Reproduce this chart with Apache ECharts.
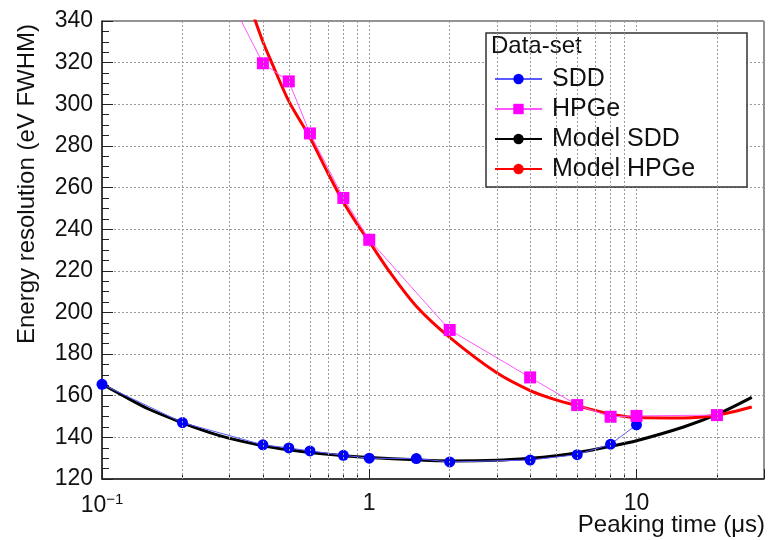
<!DOCTYPE html>
<html><head><meta charset="utf-8">
<script src="https://cdn.jsdelivr.net/npm/echarts@6/dist/echarts.min.js"></script>
<style>html,body{margin:0;padding:0;background:#fff}#c{width:769px;height:540px}</style>
</head><body><div id="c"></div>
<script>
// ---- data ----
const sddX = [0.1, 0.2, 0.4, 0.5, 0.6, 0.8, 1, 1.5, 2, 4, 6, 8, 10];
const sddY = [165.5, 147.1, 136.4, 134.9, 133.5, 131.4, 130.0, 129.8, 128.2, 129.1, 131.7, 136.7, 146.0];
const hpgeX = [0.2, 0.4, 0.5, 0.6, 0.8, 1, 2, 4, 6, 8, 10, 20];
const hpgeY = [395, 319.7, 311.0, 286.0, 255.0, 234.9, 191.6, 168.8, 155.5, 149.9, 150.3, 150.7];
const modelSddX = [0.1, 0.12, 0.15, 0.2, 0.25, 0.3, 0.4, 0.5, 0.6, 0.8, 1, 1.5, 2, 3, 4, 5, 6, 8, 10, 15, 20, 27];
const modelSddY = [165.5, 160, 153.5, 147, 142.5, 139.5, 136, 134, 132.7, 131.2, 130.3, 129.2, 128.7, 129, 130, 131.2, 132.6, 135.7, 138.4, 145, 151, 159.2];
const modelHpgeX = [0.35, 0.4, 0.43, 0.5, 0.6, 0.7, 0.8, 0.9, 1, 1.2, 1.5, 2, 3, 4, 5, 6, 8, 10, 15, 20, 27];
const modelHpgeY = [351, 330, 320.5, 301.5, 284, 267, 253, 242.5, 234, 219, 203, 188, 171, 162.5, 158, 155.2, 151.2, 149.5, 149.3, 150.7, 154.6];
const minorGridX = [0.2, 0.3, 0.4, 0.5, 0.6, 0.7, 0.8, 0.9, 2, 3, 4, 5, 6, 7, 8, 9, 20];
const seriesNames = ['SDD', 'HPGe', 'Model SDD', 'Model HPGe'];
const xTitle = 'Peaking time (\u03bcs)';
const yTitle = 'Energy resolution (eV FWHM)';
const legendTitle = 'Data-set';

const zip = (xs, ys) => xs.map((x, i) => [x, ys[i]]);
const FONT = '"Liberation Sans", Arial, Helvetica, sans-serif';
const chart = echarts.init(document.getElementById('c'), null, {renderer: 'canvas'});

function xLabel(v) {
  const l = Math.log10(v);
  if (Math.abs(l + 1) < 1e-6) return '{b|10}{s|\u22121}';
  if (Math.abs(l) < 1e-6) return '{b|1}';
  if (Math.abs(l - 1) < 1e-6) return '{b|10}';
  return '';
}

chart.setOption({
  animation: false,
  backgroundColor: '#fff',
  textStyle: {fontFamily: FONT},
  grid: {left: 102, right: 5, top: 21, bottom: 61, show: true, borderColor: '#222', borderWidth: 1, backgroundColor: 'transparent'},
  xAxis: [{
    type: 'log', logBase: 10, min: 0.1, max: 30,
    axisLine: {show: true, onZero: false, lineStyle: {color: '#222', width: 1.5}},
    axisTick: {show: true, inside: true, length: 10, lineStyle: {color: '#222'}},
    axisLabel: {formatter: xLabel, margin: 13, color: '#111', fontFamily: FONT,
      rich: {b: {fontSize: 23, fontFamily: FONT, color: '#111'},
             s: {fontSize: 15, fontFamily: FONT, color: '#111', padding: [0, 0, 12, 0]}}},
    splitLine: {show: true, lineStyle: {color: '#999', type: [2, 2], width: 1}},
    minorTick: {show: false}
  }, {
    type: 'log', logBase: 10, min: 0.1, max: 30, position: 'bottom',
    axisLine: {show: false},
    axisLabel: {show: false},
    splitLine: {show: false},
    axisTick: {show: true, inside: true, length: 5, lineStyle: {color: '#222'}, customValues: minorGridX}
  }],
  yAxis: [{
    type: 'value', min: 120, max: 340, interval: 20,
    axisLine: {show: true, lineStyle: {color: '#222', width: 1.5}},
    axisTick: {show: true, inside: true, length: 11, lineStyle: {color: '#222'}},
    minorTick: {show: true, splitNumber: 4, length: 7, lineStyle: {color: '#222'}},
    axisLabel: {fontSize: 23, color: '#111', margin: 9, fontFamily: FONT},
    splitLine: {show: true, lineStyle: {color: '#999', type: [2, 2], width: 1}}
  }],
  legend: {
    data: seriesNames, orient: 'vertical', left: 494, top: 66,
    itemWidth: 47, itemHeight: 13, itemGap: 4, padding: 0, z: 6,
    textStyle: {fontSize: 25, color: '#111', fontFamily: FONT, lineHeight: 26, padding: [0, 0, 0, 5]}
  },
  graphic: [
    {type: 'rect', z: 3, shape: {x: 486, y: 33, width: 261, height: 154},
     style: {fill: '#fff', stroke: '#333', lineWidth: 1.5}},
    {type: 'text', z: 4, x: 491, y: 46, style: {text: legendTitle, font: '24px ' + FONT, fill: '#111', verticalAlign: 'middle', align: 'left'}},
    {type: 'text', z: 4, x: 27, y: 184, rotation: Math.PI / 2,
     style: {text: yTitle, font: '24px ' + FONT, fill: '#111', align: 'center', verticalAlign: 'middle'}},
    {type: 'text', z: 4, x: 765, y: 525,
     style: {text: xTitle, font: '24px ' + FONT, fill: '#111', align: 'right', verticalAlign: 'middle'}}
  ],
  series: [
    {type: 'line', name: 'grid', data: [], silent: true, z: 1,
     markLine: {silent: true, symbol: 'none', label: {show: false},
       lineStyle: {color: '#999', type: [2, 2], width: 1},
       data: minorGridX.map(v => ({xAxis: v}))}},
    {type: 'line', name: 'Model SDD', data: zip(modelSddX, modelSddY), smooth: 0.3,
     showSymbol: false, symbol: 'circle', symbolSize: 10, z: 2,
     lineStyle: {color: '#000', width: 3}, itemStyle: {color: '#000'}},
    {type: 'line', name: 'Model HPGe', data: zip(modelHpgeX, modelHpgeY), smooth: 0.3,
     showSymbol: false, symbol: 'circle', symbolSize: 10, z: 2,
     lineStyle: {color: '#ff0000', width: 3}, itemStyle: {color: '#ff0000'}},
    {type: 'line', name: 'SDD', data: zip(sddX, sddY), symbol: 'circle', symbolSize: 11, z: 3,
     lineStyle: {color: '#5a5aff', width: 1}, itemStyle: {color: '#0000ff'}},
    {type: 'line', name: 'HPGe', data: zip(hpgeX, hpgeY), symbol: 'rect', symbolSize: 12, z: 3,
     lineStyle: {color: '#ff55ff', width: 1}, itemStyle: {color: '#ff00ff'}}
  ]
});
</script></body></html>
